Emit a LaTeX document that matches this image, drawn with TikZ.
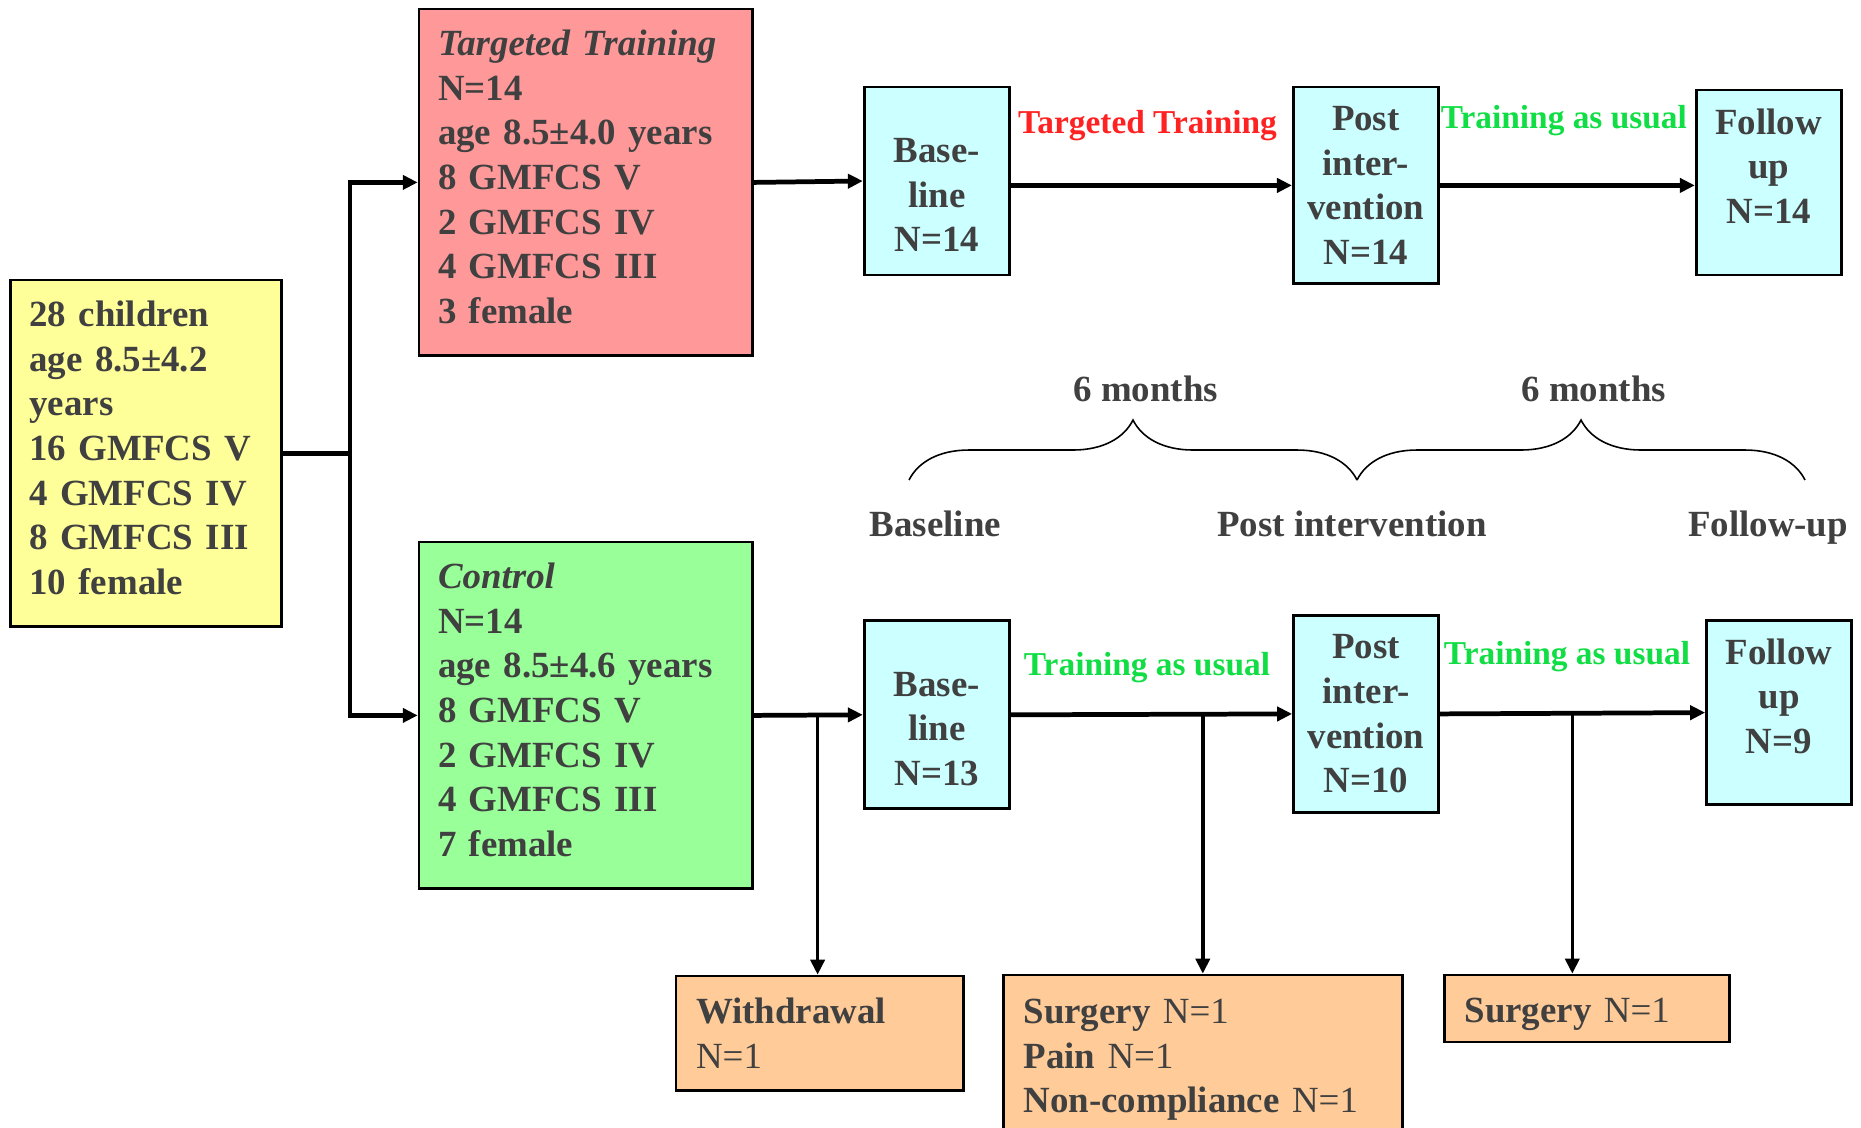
\documentclass[tikz,border=0pt]{standalone}
\usepackage{fontspec}
\setmainfont{Liberation Serif}
\usepackage{tikz}
\usetikzlibrary{arrows.meta,decorations.pathreplacing}
\definecolor{txtgray}{HTML}{404040}
\definecolor{fillyellow}{HTML}{FFFF99}
\definecolor{fillred}{HTML}{FF9999}
\definecolor{fillgreen}{HTML}{99FF99}
\definecolor{fillcyan}{HTML}{CCFFFF}
\definecolor{fillorange}{HTML}{FFCC99}
\definecolor{labred}{HTML}{FF2222}
\definecolor{labgreen}{HTML}{11DD44}
\newcommand{\bigtxt}{\fontsize{21pt}{25.4pt}\selectfont\bfseries}
\newcommand{\armtxt}{\fontsize{19pt}{23pt}\selectfont\bfseries}
\tikzset{
  group/.style={draw=black, line width=1.6pt, text=txtgray, font=\bigtxt, align=left,
    inner xsep=0.38cm, inner ysep=0pt, minimum height=6.94cm},
  visit/.style={draw=black, line width=1.6pt, fill=fillcyan, text=txtgray, font=\bigtxt,
    align=center, text width=2.9cm, inner sep=0pt, minimum width=2.9cm},
  lost/.style={draw=black, line width=1.6pt, fill=fillorange, text=txtgray, font=\bigtxt,
    align=left, inner xsep=0.4cm, inner ysep=0pt},
  flow/.style={line width=2.7pt, -{Triangle[length=8.5pt,width=8pt]}},
  drop/.style={line width=2pt, -{Triangle[length=8.5pt,width=8pt]}},
  phase/.style={font=\bigtxt, text=txtgray, anchor=base, inner sep=0pt},
  arm/.style={font=\armtxt, anchor=base, inner sep=0pt},
}

\begin{document}
\begin{tikzpicture}[x=0.02cm,y=-0.02cm]
		\useasboundingbox (0,0) rectangle (1861,1127);
		\clip (0,0) rectangle (1861,1127);
		%%  groups  %%%%%%%%
		\node[group, fill=fillyellow, text width=4.66cm, minimum height=6.94cm] (all) at (146,453.4)
			{28 children\\age 8.5±4.2\\years\\16 GMFCS V\\4 GMFCS IV\\8 GMFCS III\\10 female\par\vspace*{0.22cm}};
		\node[group, fill=fillred, text width=5.91cm] (tt) at (585.8,182.4)
			{\textit{Targeted Training}\\N=14\\age 8.5±4.0 years\\8 GMFCS V\\2 GMFCS IV\\4 GMFCS III\\3 female\par\vspace*{0.22cm}};
		\node[group, fill=fillgreen, text width=5.91cm] (ctrl) at (585.8,715.4)
			{\textit{Control}\\N=14\\age 8.5±4.6 years\\8 GMFCS V\\2 GMFCS IV\\4 GMFCS III\\7 female\par\vspace*{0.22cm}};
		\coordinate (split) at (350,453.4);
		\draw[line width=2.7pt] (all.east) -- (split);
		\draw[flow] (split) |- (tt.west);
		\draw[flow] (split) |- (ctrl.west);
		%%  targeted training arm  %%%%%%%%
		\node[visit, minimum height=3.76cm] (base1) at (936.7,181) {\rule{0pt}{1.05cm}Base-\\line\\N=14};
		\node[visit, minimum height=3.94cm] (post1) at (1365.8,185.4) {Post\\inter-\\vention\\N=14};
		\node[visit, minimum height=3.7cm] (follow1) at (1768.7,182.5) {Follow\\up\\N=14\par\vspace*{0.66cm}};
		\draw[flow] (tt.east) -- (base1.west);
		\draw[flow] (base1.east |- post1.west) -- (post1.west);
		\draw[flow] (post1.east) -- (follow1.west |- post1.east);
		\node[arm, text=labred] (lblTT) at (1147.5,133) {Targeted Training};
		\node[arm, text=labgreen] (lblTU1) at (1563.8,128.6) {Training as usual};
		%%  time line  %%%%%%%%
		\coordinate (tBase) at (909,480);
		\coordinate (tPost) at (1357,480);
		\coordinate (tFollow) at (1805,480);
		\draw[line width=0.9pt, decorate, decoration={brace, amplitude=1.2cm}] (tBase) -- (tPost);
		\draw[line width=0.9pt, decorate, decoration={brace, amplitude=1.2cm}] (tPost) -- (tFollow);
		\node[phase] (months1) at (1145.6,401.8) {6 months};
		\node[phase] (months2) at (1593.7,401.8) {6 months};
		\node[phase] (lblBase) at (935.4,536.8) {Baseline};
		\node[phase] (lblPost) at (1352,536.8) {Post intervention};
		\node[phase] (lblFollow) at (1768,536.8) {Follow-up};
		%%  control arm  %%%%%%%%
		\node[visit, minimum height=3.76cm] (base2) at (936.7,714.8) {\rule{0pt}{1.05cm}Base-\\line\\N=13};
		\node[visit, minimum height=3.94cm] (post2) at (1366,713.9) {Post\\inter-\\vention\\N=10};
		\node[visit, minimum height=3.68cm] (follow2) at (1779,712.6) {Follow\\up\\N=9\par\vspace*{0.66cm}};
		\draw[flow] (ctrl.east) -- (base2.west);
		\draw[flow] (base2.east) -- (post2.west);
		\draw[flow] (post2.east) -- (follow2.west);
		\node[arm, text=labgreen] (lblTU2) at (1147,675) {Training as usual};
		\node[arm, text=labgreen] (lblTU3) at (1567,664.9) {Training as usual};
		%%  drop outs  %%%%%%%%
		\node[lost, text width=4.95cm, minimum height=2.29cm] (withdraw) at (819.8,1033.3)
			{Withdrawal\\\mdseries N=1};
		\node[lost, text width=7.18cm, minimum height=3.4cm] (lostPost) at (1203,1060)
			{Surgery {\mdseries N=1}\\Pain {\mdseries N=1}\\Non-compliance {\mdseries N=1}};
		\node[lost, text width=4.9cm, minimum height=1.34cm] (lostFollow) at (1587,1008.5)
			{\rule{0pt}{0.74cm}Surgery {\mdseries N=1}};
		\coordinate (out1) at (817.6,715.2);
		\coordinate (out2) at (1202.8,714.4);
		\coordinate (out3) at (1572.3,713.3);
		\draw[drop] (out1) -- (out1 |- withdraw.north);
		\draw[drop] (out2) -- (out2 |- lostPost.north);
		\draw[drop] (out3) -- (out3 |- lostFollow.north);
		%%%%%%%%%%%%%%%
\end{tikzpicture}
\end{document}
